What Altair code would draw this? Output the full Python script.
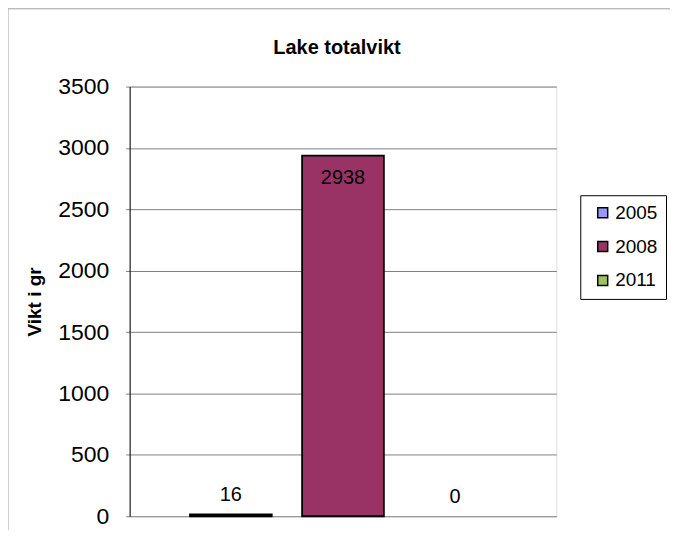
import altair as alt
import pandas as pd

chart_title = ["Lake totalvikt"]
years = ["2005", "2008", "2011"]
values = [16, 2938, 0]
colors = ["#9999FF", "#993366", "#9BC35A"]
y_ticks = [0, 500, 1000, 1500, 2000, 2500, 3000, 3500]

df = pd.DataFrame({"year": years, "value": values})
title_df = pd.DataFrame({"t": chart_title})

FONT = "Liberation Sans"

x_enc = alt.X("year:N", axis=None, sort=years,
              scale=alt.Scale(paddingInner=0.271, paddingOuter=0.538))

bars = alt.Chart(df).mark_bar(stroke="black", strokeWidth=1.8).encode(
    x=x_enc,
    y=alt.Y("value:Q",
            scale=alt.Scale(domain=[0, 3500], nice=False),
            axis=alt.Axis(values=y_ticks, format="d", title="Vikt i gr", titleFont=FONT,
                          titleFontSize=19, titleFontWeight="bold", titleColor="black",
                          titlePadding=13, labelFont=FONT, labelFontSize=23,
                          labelColor="black", labelPadding=17, tickSize=4,
                          tickColor="#808080", domainColor="black", domainWidth=1,
                          gridColor="#808080", gridWidth=1)),
    color=alt.Color("year:N", sort=years,
                    scale=alt.Scale(domain=years, range=colors),
                    legend=alt.Legend(title=None, orient="none", legendX=452, legendY=109,
                                      symbolType="square", symbolSize=100,
                                      symbolStrokeColor="black", symbolStrokeWidth=1.5,
                                      labelFont=FONT, labelFontSize=19, labelColor="black",
                                      labelOffset=3, symbolOffset=5, rowPadding=14,
                                      padding=8, strokeColor="black", fillColor="white",
                                      cornerRadius=0)),
    strokeOpacity=alt.condition("datum.value > 0", alt.value(1), alt.value(0)),
)

labels_low = alt.Chart(df).transform_filter("datum.value < 2500").mark_text(
    font=FONT, fontSize=20, color="black", baseline="alphabetic", dy=-13
).encode(x=x_enc, y="value:Q", text="value:Q")

labels_high = alt.Chart(df).transform_filter("datum.value >= 2500").mark_text(
    font=FONT, fontSize=20, color="black", baseline="alphabetic", dy=29
).encode(x=x_enc, y="value:Q", text="value:Q")

# chart title as text (placed above the plot area)
title_text = alt.Chart(title_df).mark_text(
    font=FONT, fontSize=20, fontWeight="bold", color="black",
    align="center", baseline="alphabetic"
).encode(x=alt.value(208), y=alt.value(-33), text="t:N")

# outer chart frame (decoration)
frame_left = alt.Chart(title_df).mark_rule(color="#a0a0a0", strokeWidth=1).encode(
    x=alt.value(-122), y=alt.value(-78), y2=alt.value(445))
frame_top = alt.Chart(title_df).mark_rule(color="#a0a0a0", strokeWidth=1).encode(
    x=alt.value(-122), x2=alt.value(560), y=alt.value(-78))

chart = alt.layer(bars, labels_low, labels_high, title_text, frame_left, frame_top).properties(
    width=428, height=431,
    autosize=alt.AutoSizeParams(type="none"),
    padding={"left": 122, "top": 78, "right": 114, "bottom": 14},
).configure_view(
    fill="#C0C0C0", stroke="#808080", strokeWidth=2
).configure(background="white")

chart.save("out.html", embed_options={"renderer": "svg", "actions": False})
